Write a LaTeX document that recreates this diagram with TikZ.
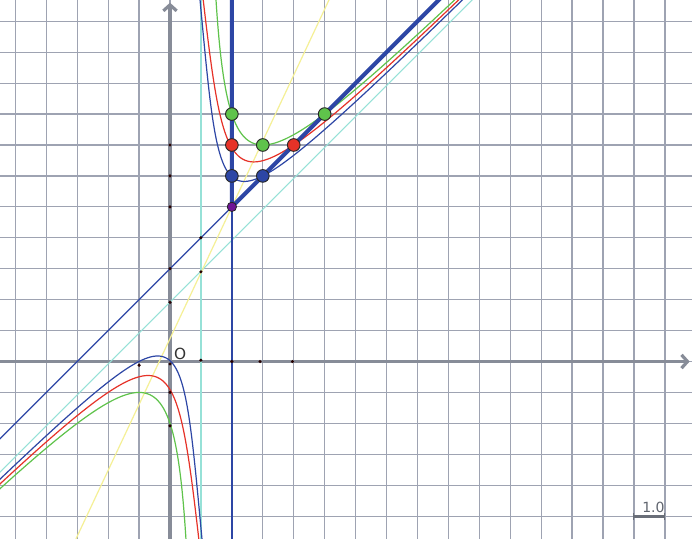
\documentclass[tikz,border=0pt]{standalone}
\usepackage{fontspec}
\setmainfont{DejaVu Sans}
\usetikzlibrary{arrows.meta}
\definecolor{gridc}{RGB}{158,163,178}
\definecolor{axisc}{RGB}{135,140,152}
\definecolor{barc}{RGB}{105,110,120}
\definecolor{cblue}{RGB}{45,70,165}
\definecolor{cred}{RGB}{230,50,40}
\definecolor{cgreen}{RGB}{95,195,75}
\definecolor{ccyan}{RGB}{150,225,215}
\definecolor{cyellow}{RGB}{245,240,150}
\definecolor{cpurple}{RGB}{110,20,150}
\definecolor{ctext}{RGB}{95,100,110}
\tikzset{
  gridline/.style={draw=gridc, line width=0.95pt},
  axisline/.style={draw=axisc, line width=2.4pt},
  thinc/.style={line width=0.9pt},
  thickb/.style={draw=cblue, line width=3pt, line join=round},
  bigpt/.style={circle, draw=black!85, line width=0.7pt, minimum size=9.5pt, inner sep=0pt},
  smallpt/.style={circle, draw=black!85, line width=0.6pt, fill=cpurple, minimum size=7pt, inner sep=0pt},
  dot/.style={circle, fill=black!85!red, minimum size=2.6pt, inner sep=0pt},
}
\begin{document}
\begin{tikzpicture}[x=23.2pt,y=23.2pt]
\useasboundingbox (-5.4963,-5.7064) rectangle (16.8767,11.6877);
\begin{scope}
\clip (-5.4963,-5.7064) rectangle (16.8767,11.6877);
\fill[white] (-5.4963,-5.7064) rectangle (16.8767,11.6877);
% grid
\foreach \i in {-5,...,16} \draw[gridline] (\i,-5.8) -- (\i,11.8);
\foreach \j in {-5,...,11} \draw[gridline] (-5.6,\j) -- (17,\j);
% axes
\draw[axisline, -{Straight Barb[length=4.5pt,width=10pt]}] (-5.6,0) -- (16.8,0);
\draw[axisline, -{Straight Barb[length=4.5pt,width=10pt]}] (0,-5.8) -- (0,11.6);
% lines
\draw[ccyan, line width=1.3pt] (1,-5.8) -- (1,11.8);
\draw[ccyan, thinc] (-7,-5.08) -- (11,12.92);
\draw[cyellow, thinc] (-3.2,{5+2.13*(-5.2)}) -- (5.5,{5+2.13*3.5});
\draw[cblue, thinc] (-7,-4) -- (10,13);
\draw[cblue, line width=1.15pt] (2,-5.8) -- (2,5);
% curves, parametrised by e = y - x - 2
\draw[cgreen, thinc] plot[variable=\s, domain=-1.39:2.5, samples=250]
  ({1+4*exp(-\s)}, {3+4*exp(-\s)+exp(\s)});
\draw[cgreen, thinc] plot[variable=\s, domain=-0.63:2.5, samples=250]
  ({1-4*exp(-\s)}, {3-4*exp(-\s)-exp(\s)});
\draw[cred, thinc] plot[variable=\s, domain=-1.7:2.25, samples=250]
  ({1+3*exp(-\s)-0.0037*exp(2*\s)}, {3+3*exp(-\s)-0.0037*exp(2*\s)+exp(\s)});
\draw[cred, thinc] plot[variable=\s, domain=-0.92:2.25, samples=250]
  ({1-3*exp(-\s)+0.0037*exp(2*\s)}, {3-3*exp(-\s)+0.0037*exp(2*\s)-exp(\s)});
\draw[cblue, thinc] plot[variable=\s, domain=-2.1:2.25, samples=250]
  ({1+2*exp(-\s)-0.0034*exp(2*\s)}, {3+2*exp(-\s)-0.0034*exp(2*\s)+exp(\s)});
\draw[cblue, thinc] plot[variable=\s, domain=-1.32:2.25, samples=250]
  ({1-2*exp(-\s)+0.0034*exp(2*\s)}, {3-2*exp(-\s)+0.0034*exp(2*\s)-exp(\s)});
% thick angle
\draw[thickb] (2,11.9) -- (2,5) -- (8.9,11.9);
\end{scope}
% small dots
\node[dot] (d1) at (0,7) {};
\node[dot] (d2) at (0,6) {};
\node[dot] (d3) at (0,5) {};
\node[dot] (d4) at (0,3) {};
\node[dot] (d5) at (1,4) {};
\node[dot] (d6) at (1,2.9) {};
\node[dot] (d7) at (0,1.91) {};
\node[dot] (d8) at (1,0.04) {};
\node[dot] (d9) at (2,0) {};
\node[dot] (d10) at (2.91,0) {};
\node[dot] (d11) at (3.96,0) {};
\node[dot] (d12) at (-1,-0.12) {};
\node[dot] (d13) at (0,-0.08) {};
\node[dot] (d14) at (0,-1) {};
\node[dot] (d15) at (0,-2.08) {};
% points
\node[bigpt, fill=cgreen] (g1) at (2,8) {};
\node[bigpt, fill=cgreen] (g2) at (3,7) {};
\node[bigpt, fill=cgreen] (g3) at (5,8) {};
\node[bigpt, fill=cred] (r1) at (2,7) {};
\node[bigpt, fill=cred] (r2) at (4,7) {};
\node[bigpt, fill=cblue] (b1) at (2,6) {};
\node[bigpt, fill=cblue] (b2) at (3,6) {};
\node[smallpt] (p) at (2,5) {};
% labels
\node[font=\fontsize{11.5pt}{13pt}\selectfont, text=black!80] (o) at (0.33,0.25) {O};
\draw[draw=barc, line width=2.2pt] (15,-5) -- (16,-5);
\draw[draw=barc, line width=0.8pt] (15,-5.13) -- (15,-4.9) (16,-5.13) -- (16,-4.9);
\node[font=\fontsize{10.5pt}{12pt}\selectfont, text=ctext] (s) at (15.63,-4.72) {1.0};
\end{tikzpicture}
\end{document}
